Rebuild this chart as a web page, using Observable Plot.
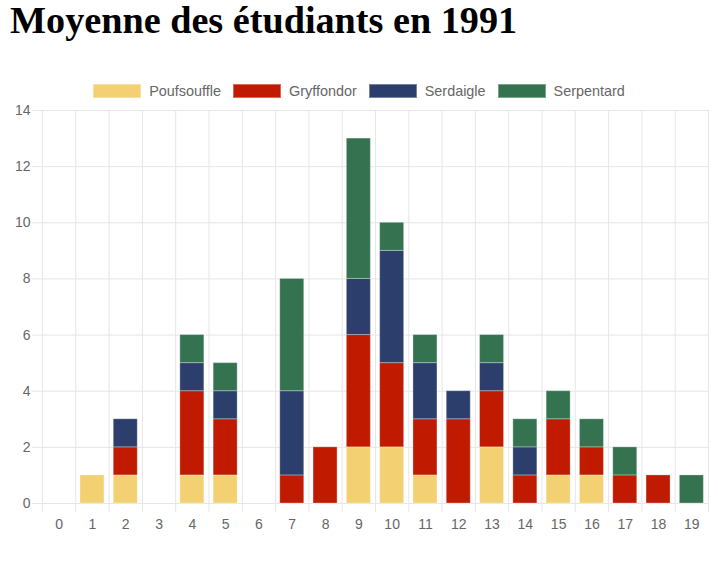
<!DOCTYPE html>
<html>
<head>
<meta charset="utf-8">
<script src="https://cdn.jsdelivr.net/npm/d3@7"></script>
<script src="https://cdn.jsdelivr.net/npm/@observablehq/plot@0.6"></script>
<style>
  html, body { margin: 0; padding: 0; background: #fff; }
  body { position: relative; width: 718px; height: 564px; overflow: hidden; }
  #title { position: absolute; left: 10px; top: 1px; margin: 0; font-family: "Liberation Serif", "Times New Roman", serif; font-weight: bold; font-size: 38.2px; line-height: 1; color: #000; white-space: nowrap; }
  #legend { position: absolute; left: 0; top: 83px; width: 718px; display: flex; justify-content: center; align-items: center; font-family: "Liberation Sans", Arial, sans-serif; font-size: 14.4px; color: #666; }
  .item { display: flex; align-items: center; margin: 0 6px; }
  .sw { width: 46px; height: 12px; margin-right: 8px; border: 1px solid rgba(255,255,255,0.35); box-sizing: content-box; }
  #chart { position: absolute; left: 0; top: 100px; }
</style>
</head>
<body>
<h1 id="title">Moyenne des étudiants en 1991</h1>
<div id="legend"></div>
<div id="chart"></div>
<script>
const categories = [0,1,2,3,4,5,6,7,8,9,10,11,12,13,14,15,16,17,18,19];
const houses = ["Poufsouffle", "Gryffondor", "Serdaigle", "Serpentard"];
const houseColors = ["#f3d072", "#c01a00", "#2c3e6c", "#357350"];
const poufsouffle = [0,1,1,0,1,1,0,0,0,2,2,1,0,2,0,1,1,0,0,0];
const gryffondor  = [0,0,1,0,3,2,0,1,2,4,3,2,3,2,1,2,1,1,1,0];
const serdaigle   = [0,0,1,0,1,1,0,3,0,2,4,2,1,1,1,0,0,0,0,0];
const serpentard  = [0,0,0,0,1,1,0,4,0,5,1,1,0,1,1,1,1,1,0,1];
const yTicks = [0,2,4,6,8,10,12,14];

const series = [poufsouffle, gryffondor, serdaigle, serpentard];
const rows = [];
categories.forEach((c, i) => {
  let acc = 0;
  houses.forEach((h, k) => {
    const v = series[k][i];
    if (v > 0) rows.push({note: c, house: h, y1: acc, y2: acc + v});
    acc += v;
  });
});
const edges = categories.map(c => c - 0.5).concat([categories[categories.length - 1] + 0.5]);

const legend = document.getElementById("legend");
houses.forEach((h, k) => {
  const it = document.createElement("div");
  it.className = "item";
  const sw = document.createElement("div");
  sw.className = "sw";
  sw.style.background = houseColors[k];
  const t = document.createElement("span");
  t.textContent = h;
  it.appendChild(sw); it.appendChild(t);
  legend.appendChild(it);
});

const chart = Plot.plot({
  width: 718,
  height: 440,
  marginTop: 10,
  marginBottom: 37,
  marginLeft: 42,
  marginRight: 10,
  style: {fontFamily: "'Liberation Sans', Arial, sans-serif", fontSize: "14px", color: "#666", background: "white"},
  x: {type: "linear", domain: [edges[0], edges[edges.length - 1]]},
  y: {domain: [0, 14]},
  color: {domain: houses, range: houseColors},
  marks: [
    Plot.ruleY(yTicks, {y: d => d, stroke: "#e6e6e6", insetLeft: -10}),
    Plot.ruleX(edges, {x: d => d, stroke: "#e6e6e6", insetBottom: -9}),
    Plot.rectY(rows, {x1: d => d.note - 0.5, x2: d => d.note + 0.5, y1: "y1", y2: "y2", fill: "house", stroke: "white", strokeOpacity: 0.3, strokeWidth: 1, insetLeft: 4.65, insetRight: 4.65}),
    Plot.axisX(categories, {tickSize: 0, tickPadding: 16, label: null, fontSize: 14, fill: "#666", tickFormat: d => String(d)}),
    Plot.axisY(yTicks, {tickSize: 0, tickPadding: 12, label: null, fontSize: 14, fill: "#666", tickFormat: d => String(d)})
  ]
});
document.getElementById("chart").appendChild(chart);
</script>
</body>
</html>
